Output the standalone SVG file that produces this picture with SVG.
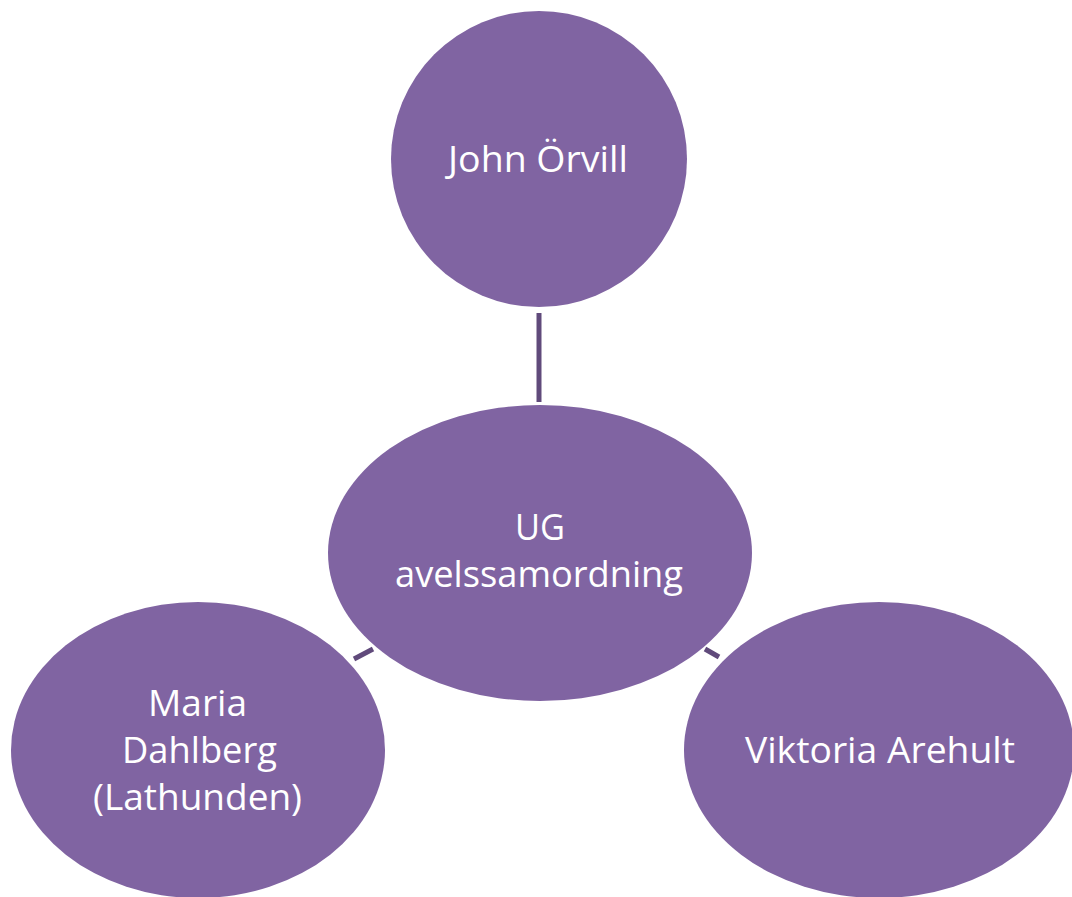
<svg xmlns="http://www.w3.org/2000/svg" width="1072" height="897" viewBox="0 0 1072 897">
<style>
.node{fill:#8064A2;}
.lbl{fill:#FFFFFF;font-family:"Open Sans","Noto Sans","Liberation Sans",sans-serif;font-size:37px;text-anchor:middle;}
.conn{stroke:#604A7B;stroke-width:5;fill:none;}
</style>
<rect width="1072" height="897" fill="#FFFFFF"/>
<g id="connectors">
<line class="conn" x1="539" y1="313" x2="539" y2="402"/>
<line class="conn" x1="354" y1="659" x2="373" y2="649"/>
<line class="conn" x1="705" y1="649" x2="719" y2="657"/>
</g>
<g id="node-john">
<circle class="node" cx="539" cy="159" r="148"/>
<text class="lbl" x="538" y="172" textLength="180" lengthAdjust="spacingAndGlyphs">John Örvill</text>
</g>
<g id="node-ug">
<ellipse class="node" cx="540" cy="553" rx="212" ry="148"/>
<text class="lbl" x="540" y="540" textLength="50" lengthAdjust="spacingAndGlyphs">UG</text>
<text class="lbl" x="539" y="587" textLength="288" lengthAdjust="spacingAndGlyphs">avelssamordning</text>
</g>
<g id="node-maria">
<ellipse class="node" cx="198" cy="750" rx="187" ry="148"/>
<text class="lbl" x="197.5" y="716" textLength="99" lengthAdjust="spacingAndGlyphs">Maria</text>
<text class="lbl" x="199.5" y="763" textLength="155" lengthAdjust="spacingAndGlyphs">Dahlberg</text>
<text class="lbl" x="197.5" y="810" textLength="209" lengthAdjust="spacingAndGlyphs">(Lathunden)</text>
</g>
<g id="node-viktoria">
<ellipse class="node" cx="879" cy="750" rx="195" ry="148"/>
<text class="lbl" x="880" y="763" textLength="270" lengthAdjust="spacingAndGlyphs">Viktoria Arehult</text>
</g>
</svg>
